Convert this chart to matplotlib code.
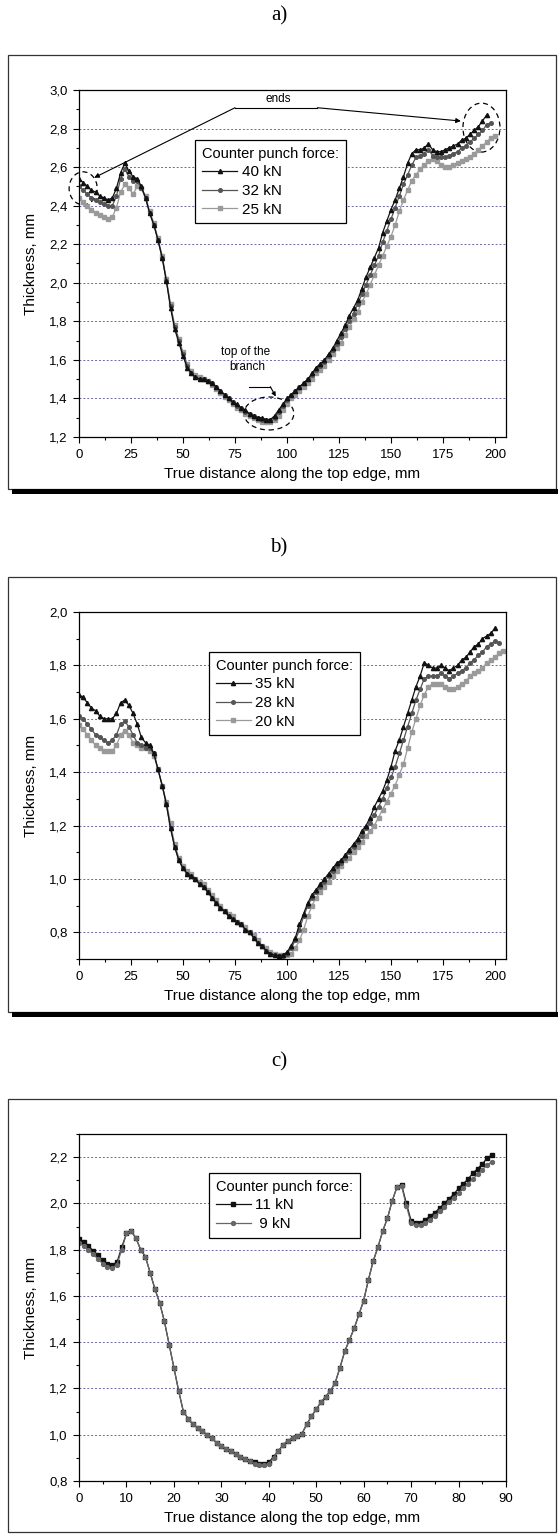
import numpy as np
import matplotlib
matplotlib.use("Agg")
import matplotlib.pyplot as plt
from matplotlib.patches import Rectangle, Ellipse
from matplotlib.ticker import MultipleLocator, FuncFormatter

# ---- panel a) data: thickness vs. distance, sampled every 2 mm
x_a40 = np.arange(0, 197, 2)
t_a40 = [2.54, 2.52, 2.50, 2.48, 2.47, 2.45, 2.44, 2.43, 2.44, 2.49,
         2.57, 2.62, 2.58, 2.55, 2.54, 2.50, 2.44, 2.36, 2.30, 2.22,
         2.13, 2.01, 1.87, 1.76, 1.69, 1.62, 1.56, 1.53, 1.51, 1.50,
         1.50, 1.49, 1.48, 1.46, 1.44, 1.42, 1.40, 1.38, 1.37, 1.35,
         1.34, 1.32, 1.31, 1.30, 1.30, 1.29, 1.29, 1.31, 1.34, 1.37,
         1.40, 1.42, 1.44, 1.46, 1.48, 1.50, 1.53, 1.56, 1.58, 1.60,
         1.63, 1.66, 1.70, 1.74, 1.78, 1.83, 1.87, 1.91, 1.97, 2.03,
         2.08, 2.13, 2.18, 2.26, 2.32, 2.38, 2.43, 2.49, 2.55, 2.62,
         2.67, 2.69, 2.69, 2.70, 2.72, 2.69, 2.68, 2.68, 2.69, 2.70,
         2.71, 2.72, 2.74, 2.75, 2.77, 2.79, 2.81, 2.84, 2.87]
x_a32 = np.arange(0, 199, 2)
t_a32 = [2.50, 2.48, 2.46, 2.44, 2.43, 2.42, 2.41, 2.40, 2.40, 2.45,
         2.54, 2.59, 2.55, 2.53, 2.53, 2.49, 2.44, 2.36, 2.30, 2.22,
         2.13, 2.01, 1.88, 1.77, 1.70, 1.63, 1.57, 1.53, 1.51, 1.50,
         1.50, 1.49, 1.48, 1.46, 1.44, 1.42, 1.40, 1.38, 1.36, 1.35,
         1.33, 1.32, 1.31, 1.30, 1.29, 1.29, 1.29, 1.30, 1.33, 1.36,
         1.39, 1.42, 1.44, 1.46, 1.48, 1.50, 1.52, 1.55, 1.57, 1.59,
         1.62, 1.65, 1.68, 1.72, 1.76, 1.80, 1.84, 1.89, 1.94, 1.99,
         2.04, 2.09, 2.14, 2.21, 2.27, 2.33, 2.39, 2.45, 2.51, 2.56,
         2.61, 2.65, 2.66, 2.67, 2.69, 2.66, 2.65, 2.65, 2.65, 2.66,
         2.67, 2.68, 2.70, 2.71, 2.73, 2.75, 2.77, 2.79, 2.82, 2.83]
x_a25 = np.arange(0, 201, 2)
t_a25 = [2.44, 2.42, 2.40, 2.38, 2.36, 2.35, 2.34, 2.33, 2.34, 2.39,
         2.47, 2.51, 2.49, 2.46, 2.50, 2.49, 2.45, 2.37, 2.31, 2.23,
         2.14, 2.02, 1.89, 1.78, 1.71, 1.64, 1.58, 1.54, 1.52, 1.51,
         1.50, 1.49, 1.47, 1.45, 1.43, 1.41, 1.39, 1.37, 1.35, 1.34,
         1.32, 1.31, 1.30, 1.29, 1.28, 1.28, 1.28, 1.29, 1.31, 1.34,
         1.37, 1.40, 1.42, 1.44, 1.46, 1.48, 1.50, 1.53, 1.55, 1.57,
         1.60, 1.63, 1.66, 1.69, 1.73, 1.77, 1.81, 1.85, 1.90, 1.94,
         1.99, 2.04, 2.09, 2.14, 2.19, 2.24, 2.30, 2.37, 2.43, 2.48,
         2.53, 2.56, 2.59, 2.61, 2.63, 2.64, 2.63, 2.61, 2.60, 2.60,
         2.61, 2.62, 2.63, 2.64, 2.65, 2.67, 2.69, 2.71, 2.73, 2.75,
         2.76]

# ---- panel b) data
x_b35 = np.arange(0, 201, 2)
t_b35 = [1.69, 1.68, 1.66, 1.64, 1.63, 1.61, 1.60, 1.60, 1.60, 1.62,
         1.66, 1.67, 1.65, 1.62, 1.58, 1.53, 1.51, 1.50, 1.47, 1.41,
         1.35, 1.28, 1.19, 1.12, 1.07, 1.04, 1.02, 1.01, 1.00, 0.98,
         0.97, 0.95, 0.93, 0.91, 0.89, 0.88, 0.86, 0.85, 0.84, 0.83,
         0.81, 0.80, 0.78, 0.76, 0.75, 0.73, 0.72, 0.715, 0.713, 0.715,
         0.725, 0.75, 0.78, 0.83, 0.87, 0.91, 0.94, 0.96, 0.98, 1.00,
         1.02, 1.04, 1.06, 1.07, 1.09, 1.11, 1.13, 1.15, 1.18, 1.20,
         1.23, 1.27, 1.30, 1.33, 1.37, 1.42, 1.48, 1.52, 1.57, 1.62,
         1.67, 1.72, 1.76, 1.81, 1.80, 1.79, 1.79, 1.80, 1.79, 1.78,
         1.79, 1.80, 1.82, 1.83, 1.85, 1.87, 1.88, 1.90, 1.91, 1.92,
         1.94]
x_b28 = np.arange(0, 203, 2)
t_b28 = [1.61, 1.60, 1.58, 1.56, 1.54, 1.53, 1.52, 1.51, 1.52, 1.54,
         1.58, 1.59, 1.57, 1.54, 1.51, 1.50, 1.49, 1.49, 1.47, 1.41,
         1.35, 1.28, 1.19, 1.12, 1.07, 1.04, 1.02, 1.01, 1.00, 0.98,
         0.97, 0.95, 0.93, 0.91, 0.89, 0.88, 0.86, 0.85, 0.84, 0.83,
         0.81, 0.80, 0.78, 0.76, 0.75, 0.73, 0.72, 0.715, 0.71, 0.71,
         0.72, 0.74, 0.77, 0.81, 0.86, 0.90, 0.93, 0.95, 0.97, 0.99,
         1.01, 1.03, 1.05, 1.06, 1.08, 1.10, 1.12, 1.14, 1.16, 1.19,
         1.21, 1.24, 1.27, 1.30, 1.34, 1.38, 1.42, 1.47, 1.52, 1.57,
         1.62, 1.67, 1.71, 1.75, 1.76, 1.76, 1.76, 1.77, 1.76, 1.75,
         1.76, 1.77, 1.78, 1.79, 1.81, 1.82, 1.84, 1.85, 1.87, 1.88,
         1.89, 1.885]
x_b20 = np.arange(0, 205, 2)
t_b20 = [1.575, 1.56, 1.54, 1.52, 1.50, 1.49, 1.48, 1.48, 1.48, 1.50,
         1.54, 1.555, 1.54, 1.51, 1.50, 1.49, 1.49, 1.48, 1.46, 1.41,
         1.35, 1.29, 1.21, 1.13, 1.08, 1.05, 1.03, 1.02, 1.00, 0.99,
         0.98, 0.96, 0.94, 0.92, 0.90, 0.88, 0.87, 0.86, 0.84, 0.83,
         0.82, 0.80, 0.79, 0.77, 0.75, 0.74, 0.725, 0.72, 0.715, 0.715,
         0.715, 0.72, 0.74, 0.77, 0.81, 0.86, 0.90, 0.93, 0.95, 0.97,
         0.99, 1.01, 1.03, 1.05, 1.07, 1.08, 1.10, 1.12, 1.14, 1.16,
         1.18, 1.20, 1.23, 1.26, 1.29, 1.32, 1.35, 1.39, 1.43, 1.49,
         1.55, 1.60, 1.65, 1.69, 1.72, 1.73, 1.73, 1.73, 1.72, 1.71,
         1.71, 1.72, 1.73, 1.74, 1.76, 1.77, 1.78, 1.79, 1.81, 1.82,
         1.83, 1.845, 1.855]

# ---- panel c) data, sampled every 1 mm
x_c = np.arange(0, 88, 1)
t_c11 = [1.845, 1.835, 1.815, 1.795, 1.775, 1.755, 1.74, 1.735, 1.745, 1.81,
         1.87, 1.88, 1.85, 1.80, 1.77, 1.70, 1.63, 1.57, 1.49, 1.39,
         1.29, 1.19, 1.10, 1.07, 1.045, 1.03, 1.015, 1.00, 0.985, 0.965,
         0.95, 0.94, 0.93, 0.915, 0.905, 0.895, 0.885, 0.88, 0.875, 0.872,
         0.88, 0.905, 0.93, 0.955, 0.975, 0.985, 0.995, 1.005, 1.045, 1.08,
         1.11, 1.14, 1.165, 1.19, 1.225, 1.29, 1.36, 1.41, 1.46, 1.52,
         1.58, 1.67, 1.75, 1.81, 1.88, 1.935, 2.01, 2.07, 2.08, 2.00,
         1.925, 1.915, 1.915, 1.93, 1.945, 1.96, 1.98, 2.00, 2.02, 2.04,
         2.065, 2.085, 2.105, 2.13, 2.15, 2.17, 2.195, 2.21]
t_c9 = [1.83, 1.815, 1.80, 1.78, 1.76, 1.74, 1.725, 1.72, 1.735, 1.80,
        1.87, 1.88, 1.85, 1.80, 1.77, 1.70, 1.63, 1.57, 1.49, 1.39,
        1.29, 1.19, 1.10, 1.07, 1.045, 1.03, 1.015, 1.00, 0.985, 0.965,
        0.95, 0.94, 0.93, 0.915, 0.905, 0.895, 0.885, 0.875, 0.87, 0.868,
        0.875, 0.90, 0.93, 0.955, 0.975, 0.985, 0.995, 1.005, 1.045, 1.08,
        1.11, 1.14, 1.165, 1.19, 1.225, 1.29, 1.36, 1.41, 1.46, 1.52,
        1.58, 1.67, 1.75, 1.81, 1.88, 1.935, 2.01, 2.07, 2.075, 1.99,
        1.915, 1.905, 1.905, 1.915, 1.93, 1.945, 1.965, 1.985, 2.005, 2.025,
        2.045, 2.065, 2.085, 2.105, 2.125, 2.145, 2.165, 2.18]

W, H = 558, 1534
sans = "Liberation Sans"
serif = "Liberation Serif"

fig = plt.figure(figsize=(W / 100, H / 100), dpi=100)
fig.patch.set_facecolor("white")


def fx(px):
    return px / W


def fy(py):
    return 1 - py / H


def frame(top, bottom, bar=True):
    fig.patches.append(Rectangle((fx(8), fy(bottom)), fx(548), (bottom - top) / H,
                                 transform=fig.transFigure, fill=False,
                                 edgecolor="#333333", linewidth=0.9))
    if bar:
        fig.patches.append(Rectangle((fx(12), fy(bottom + 5)), fx(546), 5 / H,
                                     transform=fig.transFigure, facecolor="black",
                                     edgecolor="none"))


comma = FuncFormatter(lambda v, p: ("%.1f" % v).replace(".", ","))


def setup(ax, xmax, xmaj, ymin, ymax, grid_vals):
    ax.set_xlim(0, xmax)
    ax.set_ylim(ymin, ymax)
    ax.xaxis.set_major_locator(MultipleLocator(xmaj))
    ax.xaxis.set_minor_locator(MultipleLocator(xmaj / 2))
    ax.yaxis.set_major_locator(MultipleLocator(0.2))
    ax.yaxis.set_minor_locator(MultipleLocator(0.1))
    ax.yaxis.set_major_formatter(comma)
    ax.tick_params(which="major", direction="out", length=4, width=0.8,
                   labelsize=9.5, pad=4)
    ax.tick_params(axis="x", which="major", pad=5)
    ax.tick_params(which="minor", direction="out", length=2.5, width=0.8)
    for lab in ax.get_xticklabels() + ax.get_yticklabels():
        lab.set_fontfamily(sans)
    for s in ax.spines.values():
        s.set_linewidth(0.9)
    for g in grid_vals:
        ax.axhline(g, color="#6a6aa8", linestyle=(0, (2, 2)), linewidth=0.7, zorder=0)
    ax.set_xlabel("True distance along the top edge, mm", fontsize=11,
                  fontfamily=sans, labelpad=4)
    ax.set_ylabel("Thickness, mm", fontsize=11, fontfamily=sans, labelpad=8)


def legend(ax, handles, labels, x0, y0):
    leg = ax.legend(handles, labels, loc="upper left", bbox_to_anchor=(x0, y0),
                    borderaxespad=0, title="Counter punch force:", alignment="left",
                    prop={"family": sans, "size": 11}, handlelength=2.3,
                    handletextpad=0.3, borderpad=0.45, labelspacing=0.3,
                    fancybox=False, framealpha=1, edgecolor="black")
    leg.get_title().set_fontfamily(sans)
    leg.get_title().set_fontsize(10.5)
    leg.get_frame().set_linewidth(0.9)


# styles
blk = dict(color="#111111", lw=0.9)
mid = dict(color="#555555", lw=0.9)
lgt = dict(color="#9a9a9a", lw=0.9)

# ---------------- a)
fig.text(fx(279), fy(16), "a)", fontsize=15, fontfamily=serif, ha="center", va="center")
frame(55, 489)
ax_a = fig.add_axes([fx(79), fy(437), fx(427), 347 / H])
setup(ax_a, 205.3, 25, 1.2, 3.0, [1.4, 1.6, 1.8, 2.0, 2.2, 2.4, 2.6, 2.8])
l25, = ax_a.plot(x_a25, t_a25, marker="s", ms=3, **lgt)
l32, = ax_a.plot(x_a32, t_a32, marker="o", ms=2.6, **mid)
l40, = ax_a.plot(x_a40, t_a40, marker="^", ms=3, **blk)
legend(ax_a, [l40, l32, l25], ["40 kN", "32 kN", "25 kN"], 0.272, 0.856)

# annotations
ax_a.text(96, 2.955, "ends", fontsize=8.5, fontfamily=sans, ha="center", va="center")
ax_a.plot([75, 114.6], [2.908, 2.908], color="black", lw=0.8)
ax_a.annotate("", xy=(7.3, 2.545), xytext=(75, 2.908),
              arrowprops=dict(arrowstyle="-|>", color="black", lw=0.8,
                              mutation_scale=7, shrinkA=0, shrinkB=0))
ax_a.annotate("", xy=(183.6, 2.839), xytext=(114.6, 2.908),
              arrowprops=dict(arrowstyle="-|>", color="black", lw=0.8,
                              mutation_scale=7, shrinkA=0, shrinkB=0))
ax_a.text(80, 1.643, "top of the", fontsize=8.5, fontfamily=sans, ha="center", va="center")
ax_a.text(81, 1.565, "branch", fontsize=8.5, fontfamily=sans, ha="center", va="center")
ax_a.plot([81.7, 92], [1.461, 1.461], color="black", lw=0.8)
ax_a.annotate("", xy=(94.6, 1.41), xytext=(92, 1.461),
              arrowprops=dict(arrowstyle="-|>", color="black", lw=0.8,
                              mutation_scale=6, shrinkA=0, shrinkB=0))
for cx, cy, ew, eh in [(2, 2.49, 13.5, 0.171), (193.5, 2.805, 17.8, 0.254),
                       (91.3, 1.322, 24, 0.171)]:
    ax_a.add_patch(Ellipse((cx, cy), ew, eh, fill=False, edgecolor="black",
                           linestyle=(0, (4, 3)), lw=0.9, clip_on=False))

# ---------------- b)
fig.text(fx(279), fy(548), "b)", fontsize=15, fontfamily=serif, ha="center", va="center")
frame(577, 1012)
ax_b = fig.add_axes([fx(79), fy(959), fx(427), 347 / H])
setup(ax_b, 205.3, 25, 0.7, 2.0, [0.8, 1.0, 1.2, 1.4, 1.6, 1.8])
l20, = ax_b.plot(x_b20, t_b20, marker="s", ms=3, **lgt)
l28, = ax_b.plot(x_b28, t_b28, marker="o", ms=2.6, **mid)
l35, = ax_b.plot(x_b35, t_b35, marker="^", ms=3, **blk)
legend(ax_b, [l35, l28, l20], ["35 kN", "28 kN", "20 kN"], 0.304, 0.885)

# ---------------- c)
fig.text(fx(279), fy(1062), "c)", fontsize=15, fontfamily=serif, ha="center", va="center")
frame(1099, 1532, bar=False)
ax_c = fig.add_axes([fx(79), fy(1481), fx(427), 347 / H])
setup(ax_c, 90, 10, 0.8, 2.3, [1.0, 1.2, 1.4, 1.6, 1.8, 2.0, 2.2])
l11, = ax_c.plot(x_c, t_c11, marker="s", ms=2.8, **blk)
l9, = ax_c.plot(x_c, t_c9, marker="o", ms=2.8, color="#666666", lw=0.9)
legend(ax_c, [l11, l9], ["11 kN", " 9 kN"], 0.304, 0.888)

fig.savefig("out.png", dpi=100)
